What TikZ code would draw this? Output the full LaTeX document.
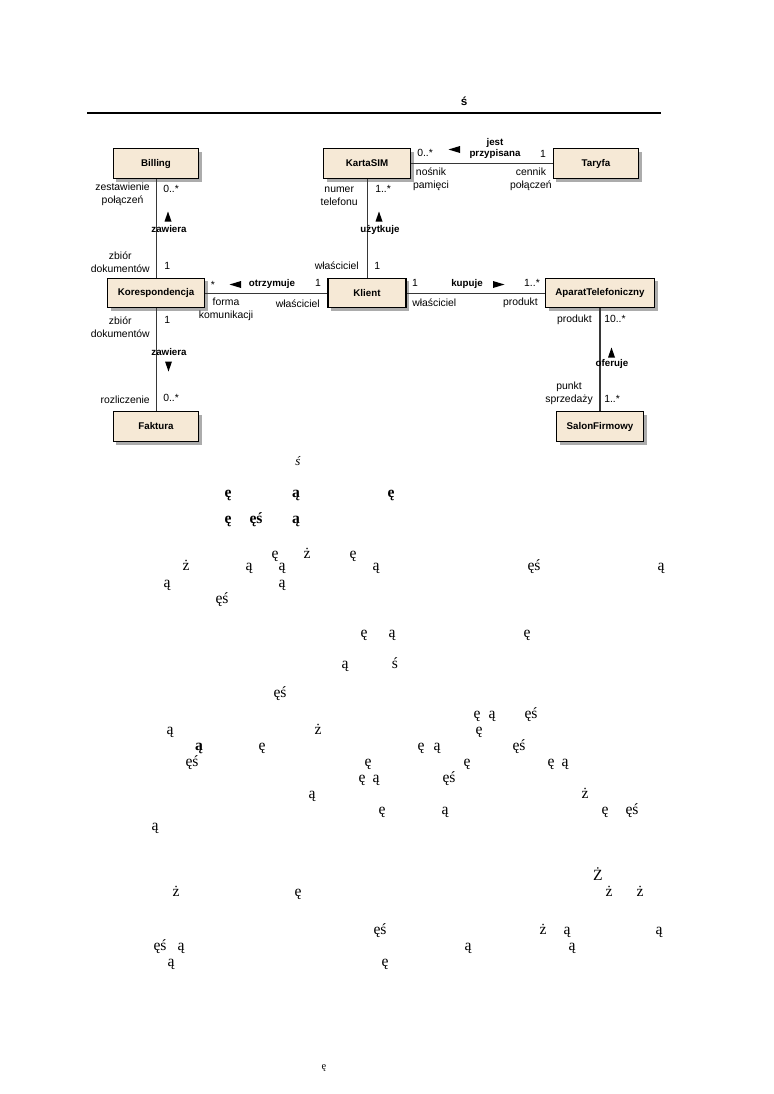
\documentclass[tikz,border=0pt]{standalone}
\usepackage{fontspec}
\setmainfont{Liberation Serif}
\setsansfont{Liberation Sans}
\usetikzlibrary{shadows}

\definecolor{boxfill}{RGB}{246,233,214}
\definecolor{linecol}{RGB}{55,55,55}

\begin{document}
\begin{tikzpicture}[x=0.769pt,y=-0.769pt,
  cls/.style={draw=black,line width=0.8pt,fill=boxfill,minimum height=23pt,
    inner sep=0pt,font=\sffamily\bfseries\fontsize{7.5}{9}\selectfont,
    drop shadow={shadow xshift=2.4pt,shadow yshift=-2.4pt,fill=gray!65,opacity=1}},
  assoc/.style={draw=linecol,line width=0.75pt},
  role/.style={font=\sffamily\fontsize{8}{10}\selectfont,align=center,inner sep=0pt},
  verb/.style={font=\sffamily\bfseries\fontsize{7.5}{8.5}\selectfont,align=center,inner sep=0pt},
  glyph/.style={font=\fontsize{12}{14}\selectfont,anchor=mid,inner sep=0pt},
  bglyph/.style={glyph,font=\bfseries\fontsize{12}{14}\selectfont}
  ]
\useasboundingbox (0,0) rectangle (774,1094);

% Page header
\node[font=\sffamily\bfseries\fontsize{9}{11}\selectfont,anchor=mid,inner sep=0pt] (hdr) at (464,103) {ś};
\coordinate (ruleL) at (87,113);
\coordinate (ruleR) at (661,113);
\draw[line width=2pt] (ruleL) -- (ruleR);

% Classes
\node[cls,minimum width=66pt] (billing) at (156,163.5) {Billing};
\node[cls,minimum width=67pt] (karta)   at (367,163.5) {KartaSIM};
\node[cls,minimum width=66pt] (taryfa)  at (596,163.5) {Taryfa};
\node[cls,minimum width=74.6pt] (koresp) at (156,293) {Korespondencja};
\node[cls,minimum width=60pt] (klient)  at (367,293) {Klient};
\node[cls,minimum width=83.8pt] (aparat) at (600,293) {AparatTelefoniczny};
\node[cls,minimum width=66pt] (faktura) at (156,426.5) {Faktura};
\node[cls,minimum width=67pt] (salon)   at (600,426.5) {SalonFirmowy};

% Associations
\draw[assoc] (billing) -- (koresp);
\draw[assoc] (karta) -- (klient);
\draw[assoc] (karta) -- (taryfa);
\draw[assoc] (koresp) -- (klient);
\draw[assoc] (klient) -- (aparat);
\draw[assoc,line width=1.5pt] (aparat) -- (salon);
\draw[assoc] (koresp) -- (faktura);

% Billing -- Korespondencja
\node[role,anchor=east] (r1) at (150,194.5) {zestawienie\\połączeń};
\node[role,anchor=mid west] (m1) at (163,190) {0..*};
\node[verb,anchor=mid] (v1) at (169,230) {zawiera};
\fill (164.5,221.5) -- (171.5,221.5) -- (168,211.5) -- cycle;
\node[role,anchor=east] (r2) at (150,262.5) {zbiór\\dokumentów};
\node[role,anchor=mid west] (m2) at (164,267) {1};

% KartaSIM -- Klient
\node[role,anchor=east] (r3) at (358,196.5) {numer\\telefonu};
\node[role,anchor=mid west] (m3) at (375,190) {1..*};
\node[verb,anchor=mid] (v2) at (380,230) {użytkuje};
\fill (375.5,221.5) -- (382.5,221.5) -- (379,211.5) -- cycle;
\node[role,anchor=mid east] (r4) at (359,267) {właściciel};
\node[role,anchor=mid west] (m4) at (374,267) {1};

% KartaSIM -- Taryfa
\node[role,anchor=mid west] (m5) at (417,154) {0..*};
\node[verb] (v3) at (495,148.5) {jest\\przypisana};
\fill (448.5,149.5) -- (460,146) -- (460,153) -- cycle;
\node[role,anchor=mid] (m6) at (543,155) {1};
\node[role] (r5) at (431,179.5) {nośnik\\pamięci};
\node[role,anchor=east] (r6) at (552,179) {cennik\\połączeń};

% Korespondencja -- Klient
\node[role,anchor=mid] (m7) at (213,286) {*};
\node[verb,anchor=mid] (v4) at (272,284) {otrzymuje};
\fill (229.5,284.5) -- (241,281) -- (241,288) -- cycle;
\node[role,anchor=mid] (m8) at (318,284) {1};
\node[role] (r7) at (226,309.5) {forma\\komunikacji};
\node[role,anchor=mid east] (r8) at (320,305) {właściciel};

% Klient -- AparatTelefoniczny
\node[role,anchor=mid] (m9) at (415,284) {1};
\node[verb,anchor=mid] (v5) at (467,284) {kupuje};
\fill (504.5,284.5) -- (493,281) -- (493,288) -- cycle;
\node[role,anchor=mid] (m10) at (532,284) {1..*};
\node[role,anchor=mid west] (r9) at (412,304) {właściciel};
\node[role,anchor=mid east] (r10) at (538,303) {produkt};

% AparatTelefoniczny -- SalonFirmowy
\node[role,anchor=mid east] (r11) at (592,320) {produkt};
\node[role,anchor=mid west] (m11) at (604,320) {10..*};
\node[verb,anchor=mid] (v6) at (612,364) {oferuje};
\fill (608,357.5) -- (615,357.5) -- (611.5,347.5) -- cycle;
\node[role,anchor=east] (r12) at (593,393.5) {punkt\\sprzedaży};
\node[role,anchor=mid west] (m12) at (604,400) {1..*};

% Korespondencja -- Faktura
\node[role,anchor=east] (r13) at (150,327.5) {zbiór\\dokumentów};
\node[role,anchor=mid west] (m13) at (164,321) {1};
\node[verb,anchor=mid] (v7) at (169,353) {zawiera};
\fill (165,361.5) -- (172,361.5) -- (168.5,371.5) -- cycle;
\node[role,anchor=mid east] (r14) at (150,401) {rozliczenie};
\node[role,anchor=mid west] (m14) at (163,399) {0..*};

% Remaining characters of the body text
\node[glyph,font=\itshape\fontsize{10}{12}\selectfont] (g0) at (298,463) {ś};
\node[bglyph] (g1) at (228,495) {ę}; \node[bglyph] (g2) at (296,495) {ą}; \node[bglyph] (g3) at (391,495) {ę};
\node[bglyph] (g4) at (228,521) {ę}; \node[bglyph] (g5) at (256,521) {ęś}; \node[bglyph] (g6) at (296,521) {ą};
\node[glyph] (g7) at (275,556) {ę}; \node[glyph] (g8) at (307,556) {ż}; \node[glyph] (g9) at (353,556) {ę};
\node[glyph] (g10) at (186,568) {ż}; \node[glyph] (g11) at (249,568) {ą}; \node[glyph] (g12) at (282,568) {ą};
\node[glyph] (g13) at (376,568) {ą}; \node[glyph] (g14) at (534,568) {ęś}; \node[glyph] (g15) at (661,568) {ą};
\node[glyph] (g16) at (167,585) {ą}; \node[glyph] (g17) at (282,585) {ą};
\node[glyph] (g18) at (222,601) {ęś};
\node[glyph] (g19) at (364,635) {ę}; \node[glyph] (g20) at (392,635) {ą}; \node[glyph] (g21) at (527,635) {ę};
\node[glyph] (g22) at (345,666) {ą}; \node[glyph] (g23) at (395,666) {ś};
\node[glyph] (g24) at (280,695) {ęś};
\node[glyph] (g25) at (477,716) {ę}; \node[glyph] (g26) at (492,716) {ą}; \node[glyph] (g27) at (531,716) {ęś};
\node[glyph] (g28) at (170,732) {ą}; \node[glyph] (g29) at (318,732) {ż}; \node[glyph] (g30) at (479,732) {ę};
\node[bglyph] (g31) at (199,748) {ą}; \node[glyph] (g32) at (262,748) {ę}; \node[glyph] (g33) at (421,748) {ę};
\node[glyph] (g34) at (437,748) {ą}; \node[glyph] (g35) at (519,748) {ęś};
\node[glyph] (g36) at (192,764) {ęś}; \node[glyph] (g37) at (368,764) {ę}; \node[glyph] (g38) at (467,764) {ę};
\node[glyph] (g39) at (551,764) {ę}; \node[glyph] (g40) at (565,764) {ą};
\node[glyph] (g41) at (362,780) {ę}; \node[glyph] (g42) at (376,780) {ą}; \node[glyph] (g43) at (449,780) {ęś};
\node[glyph] (g44) at (312,796) {ą}; \node[glyph] (g45) at (585,796) {ż};
\node[glyph] (g46) at (382,812) {ę}; \node[glyph] (g47) at (445,812) {ą}; \node[glyph] (g48) at (605,812) {ę};
\node[glyph] (g49) at (632,812) {ęś};
\node[glyph] (g50) at (155,828) {ą};
\node[glyph] (g51) at (598,878) {Ż};
\node[glyph] (g52) at (176,894) {ż}; \node[glyph] (g53) at (298,894) {ę}; \node[glyph] (g54) at (609,894) {ż};
\node[glyph] (g55) at (640,894) {ż};
\node[glyph] (g56) at (380,932) {ęś}; \node[glyph] (g57) at (543,932) {ż}; \node[glyph] (g58) at (567,932) {ą};
\node[glyph] (g59) at (659,932) {ą};
\node[glyph] (g60) at (160,948) {ęś}; \node[glyph] (g61) at (181,948) {ą}; \node[glyph] (g62) at (468,948) {ą};
\node[glyph] (g63) at (572,948) {ą};
\node[glyph] (g64) at (171,964) {ą}; \node[glyph] (g65) at (385,964) {ę};
\node[glyph,font=\fontsize{8}{10}\selectfont] (g66) at (324,1067) {ę};

\end{tikzpicture}
\end{document}
